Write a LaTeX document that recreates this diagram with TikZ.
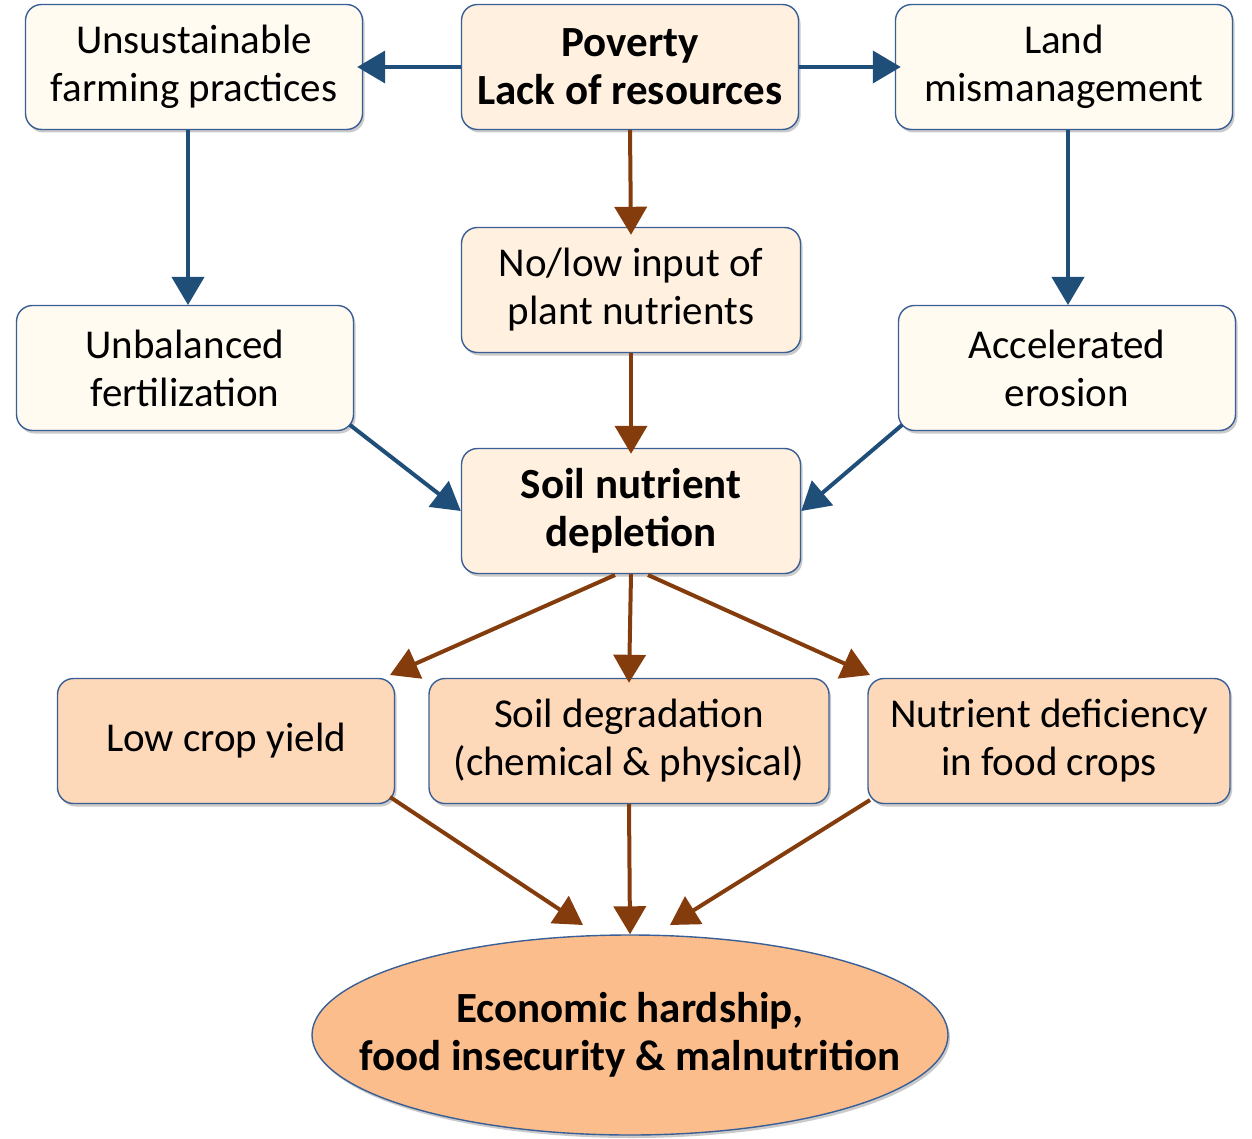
\documentclass[tikz,border=0pt]{standalone}
\usepackage{fontspec}
\setmainfont{Carlito}
\usetikzlibrary{arrows.meta,shadows,shapes.geometric}
\definecolor{cream}{HTML}{FFFBF0}
\definecolor{peachlight}{HTML}{FFF0DF}
\definecolor{peachmid}{HTML}{FDD8B9}
\definecolor{peachdark}{HTML}{FBBD8C}
\definecolor{bordblue}{HTML}{3A5F96}
\definecolor{arblue}{HTML}{1F4E79}
\definecolor{arbrown}{HTML}{843C0C}
\tikzset{
  boxbase/.style={draw=bordblue, line width=1.4pt, rounded corners=16pt, align=center,
    minimum width=337pt, minimum height=125pt, inner sep=0pt,
    font=\fontsize{41}{48}\selectfont,
    drop shadow={shadow xshift=2pt, shadow yshift=-3pt, opacity=0.35, fill=black!60}},
  creambox/.style={boxbase, fill=cream},
  lightbox/.style={boxbase, fill=peachlight},
  midbox/.style={boxbase, fill=peachmid},
  boldtext/.style={font=\fontsize{43}{48}\selectfont\bfseries},
  bluearrow/.style={draw=arblue, line width=4pt, -{Triangle[length=28pt,width=32pt]}},
  brownarrow/.style={draw=arbrown, line width=4pt, -{Triangle[length=28pt,width=32pt]}},
}
\begin{document}
\begin{tikzpicture}[x=1pt,y=-1pt]
\useasboundingbox (0,0) rectangle (1252,1139);
\node[creambox] (uns) at (194,67) {Unsustainable\\farming practices};
\node[lightbox, boldtext] (pov) at (630,67) {Poverty\\Lack of resources};
\node[creambox] (land) at (1064,67) {Land\\mismanagement};
\node[lightbox, minimum width=339pt] (nol) at (631,290) {No/low input of\\plant nutrients};
\node[creambox] (unb) at (185,368) {Unbalanced\\fertilization};
\node[creambox] (acc) at (1067,368) {Accelerated\\erosion};
\node[lightbox, minimum width=339pt, boldtext] (snd) at (631,511) {Soil nutrient\\depletion};
\node[midbox] (low) at (226,741) {Low crop yield};
\node[midbox, minimum width=400pt] (deg) at (629,741) {Soil degradation\\(chemical \& physical)};
\node[midbox, minimum width=362pt] (def) at (1049,741) {Nutrient deficiency\\in food crops};
\node[ellipse, draw=bordblue, line width=1.4pt, fill=peachdark, minimum width=636pt, minimum height=200pt,
  inner sep=0pt,
  drop shadow={shadow xshift=2pt, shadow yshift=-3pt, opacity=0.35, fill=black!60}] (eco) at (630,1035) {};
\node[align=center, boldtext, inner sep=0pt] (ecotext) at (eco.center)
  {Economic hardship,\\food insecurity \& malnutrition};
% arrows
\draw[bluearrow] (pov.west) -- ([xshift=-6pt]uns.east);
\draw[bluearrow] (pov.east) -- ([xshift=6pt]land.west);
\draw[brownarrow] (pov.south) -- ([yshift=-8pt]nol.north);
\draw[bluearrow] (uns.south -| 188,0) -- (188,305);
\draw[bluearrow] (land.south -| 1068,0) -- (1068,305);
\draw[brownarrow] (nol.south) -- ([yshift=-6pt]snd.north);
\coordinate (unbS) at (350,425);
\coordinate (accS) at (902,425);
\draw[bluearrow] (unbS) -- (snd.west);
\draw[bluearrow] (accS) -- (snd.east);
\coordinate (snd1) at (615,575);
\coordinate (snd3) at (648,575);
\coordinate (lowT) at (390,675);
\coordinate (defT) at (870,675);
\draw[brownarrow] (snd1) -- (lowT);
\draw[brownarrow] (snd.south) -- ([yshift=-5pt]deg.north);
\draw[brownarrow] (snd3) -- (defT);
\coordinate (lowB) at (390,797);
\coordinate (defB) at (870,800);
\coordinate (ecoL) at (583,925);
\coordinate (ecoR) at (670,925);
\draw[brownarrow] (lowB) -- (ecoL);
\draw[brownarrow] (deg.south) -- (eco.north);
\draw[brownarrow] (defB) -- (ecoR);
\end{tikzpicture}
\end{document}
